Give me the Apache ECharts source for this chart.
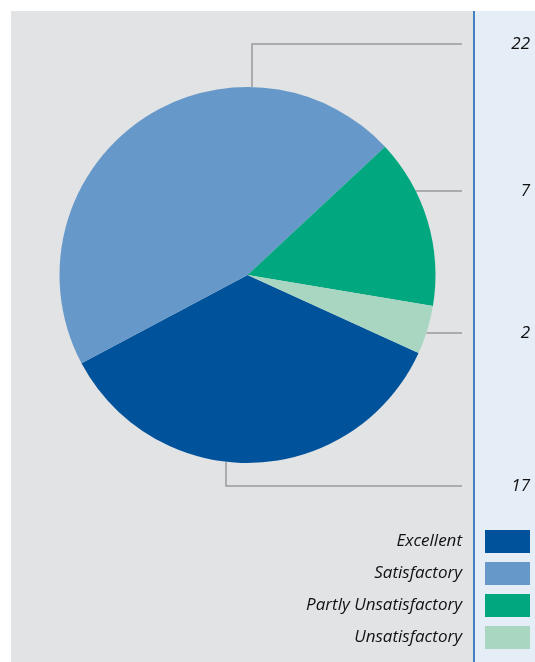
<!DOCTYPE html>
<html>
<head>
<meta charset="utf-8">
<script src="https://cdn.jsdelivr.net/npm/echarts@6/dist/echarts.min.js"></script>
<style>
html,body{margin:0;padding:0;background:#ffffff;}
#chart{width:535px;height:662px;}
</style>
</head>
<body>
<div id="chart"></div>
<script>
// ---- data ----
var categories = ['Excellent', 'Satisfactory', 'Partly Unsatisfactory', 'Unsatisfactory'];
var counts = [17, 22, 7, 2];
var colors = ['#00529b', '#6699c9', '#00a77f', '#a9d6c0'];

// ---- layout (not data) ----
var W = 535, H = 662;
var cx = 247.5, cy = 275, R = 188;
var panelX = 474;
var labelRight = 530;
var lineEndX = 462;
// row y for each label, and elbow x for labels above/below the pie
var labelRows = [486, 44, 191, 333];
var elbowX = [226, 252, null, null];

var chart = echarts.init(document.getElementById('chart'), null, {renderer: 'canvas'});

var seriesData = categories.map(function (c, i) {
  return {name: c, value: counts[i], itemStyle: {color: colors[i]}};
});

var option = {
  animation: false,
  graphic: [
    {type: 'rect', shape: {x: 11, y: 11, width: panelX - 11, height: H - 11}, style: {fill: '#e2e3e5'}, z: -10, silent: true},
    {type: 'rect', shape: {x: panelX, y: 11, width: W - panelX, height: H - 11}, style: {fill: '#e5edf6'}, z: -10, silent: true},
    {type: 'line', shape: {x1: panelX, y1: 11, x2: panelX, y2: H}, style: {stroke: '#0f5eb0', lineWidth: 1.5}, z: -9, silent: true}
  ],
  legend: {
    orient: 'vertical',
    right: W - labelRight,
    top: 530,
    padding: 0,
    itemWidth: 45,
    itemHeight: 23,
    itemGap: 9,
    align: 'right',
    icon: 'rect',
    selectedMode: false,
    data: categories,
    textStyle: {
      fontFamily: 'Open Sans',
      fontStyle: 'italic',
      fontSize: 17,
      color: '#111111',
      padding: [0, 18, 0, 0]
    }
  },
  series: [{
    type: 'pie',
    center: [cx, cy],
    radius: [0, R],
    startAngle: 335.5,
    clockwise: true,
    avoidLabelOverlap: false,
    emphasis: {disabled: true},
    silent: true,
    itemStyle: {borderWidth: 0},
    label: {
      show: true,
      position: 'outside',
      formatter: '{c}',
      fontFamily: 'Open Sans',
      fontStyle: 'italic',
      fontSize: 17,
      color: '#111111'
    },
    labelLine: {
      show: true,
      lineStyle: {color: '#9a9a9a', width: 1.5}
    },
    labelLayout: function (params) {
      var i = params.dataIndex;
      var y = labelRows[i];
      var pts;
      if (elbowX[i] !== null) {
        var ex = elbowX[i];
        var dx = ex - cx;
        var dy = Math.sqrt(R * R - dx * dx);
        var ey = y < cy ? cy - dy : cy + dy;
        pts = [[ex, ey], [ex, y], [lineEndX, y]];
      } else {
        var dyy = y - cy;
        var sx = cx + Math.sqrt(R * R - dyy * dyy);
        pts = [[sx, y], [(sx + lineEndX) / 2, y], [lineEndX, y]];
      }
      return {
        x: labelRight,
        y: y,
        align: 'right',
        verticalAlign: 'middle',
        labelLinePoints: pts
      };
    },
    data: seriesData
  }]
};

chart.setOption(option);
</script>
</body>
</html>
